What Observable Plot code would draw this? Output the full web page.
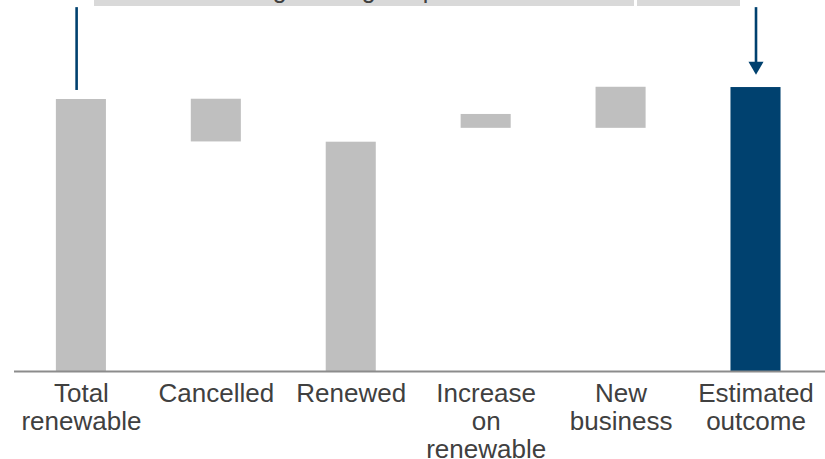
<!DOCTYPE html>
<html>
<head>
<meta charset="utf-8">
<script src="https://cdn.jsdelivr.net/npm/d3@7"></script>
<script src="https://cdn.jsdelivr.net/npm/@observablehq/plot@0.6"></script>
<style>
  body { margin: 0; background: #fff; overflow: hidden; }
  #wrap { position: relative; width: 825px; height: 459px; overflow: hidden; font-family: "Liberation Sans", Arial, sans-serif; background: #fff; }
  .hdr { position: absolute; z-index: 1; top: -28px; height: 34px; line-height: 34px; background: #D9D9D9; color: #404040; font-size: 25px; text-align: center; white-space: nowrap; overflow: hidden; }
  #chart { position: absolute; left: 0; top: 0; z-index: 2; }
</style>
</head>
<body>
<div id="wrap">
  <div class="hdr" id="h1" style="left:94px; width:540px;"></div>
  <div class="hdr" id="h2" style="left:637px; width:103px;"></div>
  <div id="chart"></div>
</div>
<script>
// ---- data ----
const categories = ["Total\nrenewable", "Cancelled", "Renewed", "Increase\non\nrenewable", "New\nbusiness", "Estimated\noutcome"];
const lows  = [0, 84.4, 0, 89.4, 89.4, 0];
const highs = [100, 100.1, 84.3, 94.5, 104.5, 104.4];
const kinds = ["base", "change", "base", "change", "change", "total"];
const headerLabels = ["Average change in premium", "105%"];
const connectorLevel = 133.3;   // height of the bracket line (value units)
const connectorStart = 103.8;   // left end of bracket
const arrowLevel = 112.3;       // arrow head centre

document.getElementById("h1").textContent = headerLabels[0];
document.getElementById("h2").textContent = headerLabels[1];

const data = categories.map((c, i) => ({cat: c, low: lows[i], high: highs[i], kind: kinds[i]}));

const first = categories[0], last = categories[categories.length - 1];
const blue = "#00416F";
const grey = "#BFBFBF";

const chart = Plot.plot({
  width: 825,
  height: 459,
  marginTop: 0,
  marginBottom: 88,
  marginLeft: 14,
  marginRight: 0,
  style: {fontFamily: "'Liberation Sans', Arial, sans-serif", fontSize: "26px", background: "transparent", overflow: "visible"},
  x: {domain: categories, paddingInner: 0.629, paddingOuter: 0.32, align: 0.485, round: false, label: null},
  y: {domain: [0, 136.4], axis: null},
  marks: [
    Plot.barY(data.filter(d => d.kind !== "total"), {x: "cat", y1: "low", y2: "high", fill: grey}),
    Plot.barY(data.filter(d => d.kind === "total"), {x: "cat", y1: "low", y2: "high", fill: blue}),
    Plot.ruleY([0], {stroke: "#8C8C8C", strokeWidth: 2}),
    // left vertical of the bracket
    Plot.ruleX([first], {x: d => d, y1: connectorStart, y2: connectorLevel, stroke: blue, strokeWidth: 2.6, dx: -4.8, strokeLinecap: "square"}),
    // horizontal of the bracket
    Plot.ruleY([connectorLevel], {y: d => d, x1: first, x2: last, stroke: blue, strokeWidth: 2.6, insetLeft: 20.3, insetRight: 25}),
    // right vertical down to the arrow
    Plot.ruleX([last], {x: d => d, y1: arrowLevel, y2: connectorLevel, stroke: blue, strokeWidth: 2.6, strokeLinecap: "square"}),
    Plot.dot([{x: last, y: arrowLevel}], {x: "x", y: "y", symbol: "triangle", r: 5.6, rotate: 180, fill: blue, stroke: null}),
    Plot.axisX({tickSize: 0, tickPadding: 10.5, fontSize: 26, lineHeight: 1.077, fill: "#404040", label: null})
  ]
});
document.getElementById("chart").appendChild(chart);
</script>
</body>
</html>
